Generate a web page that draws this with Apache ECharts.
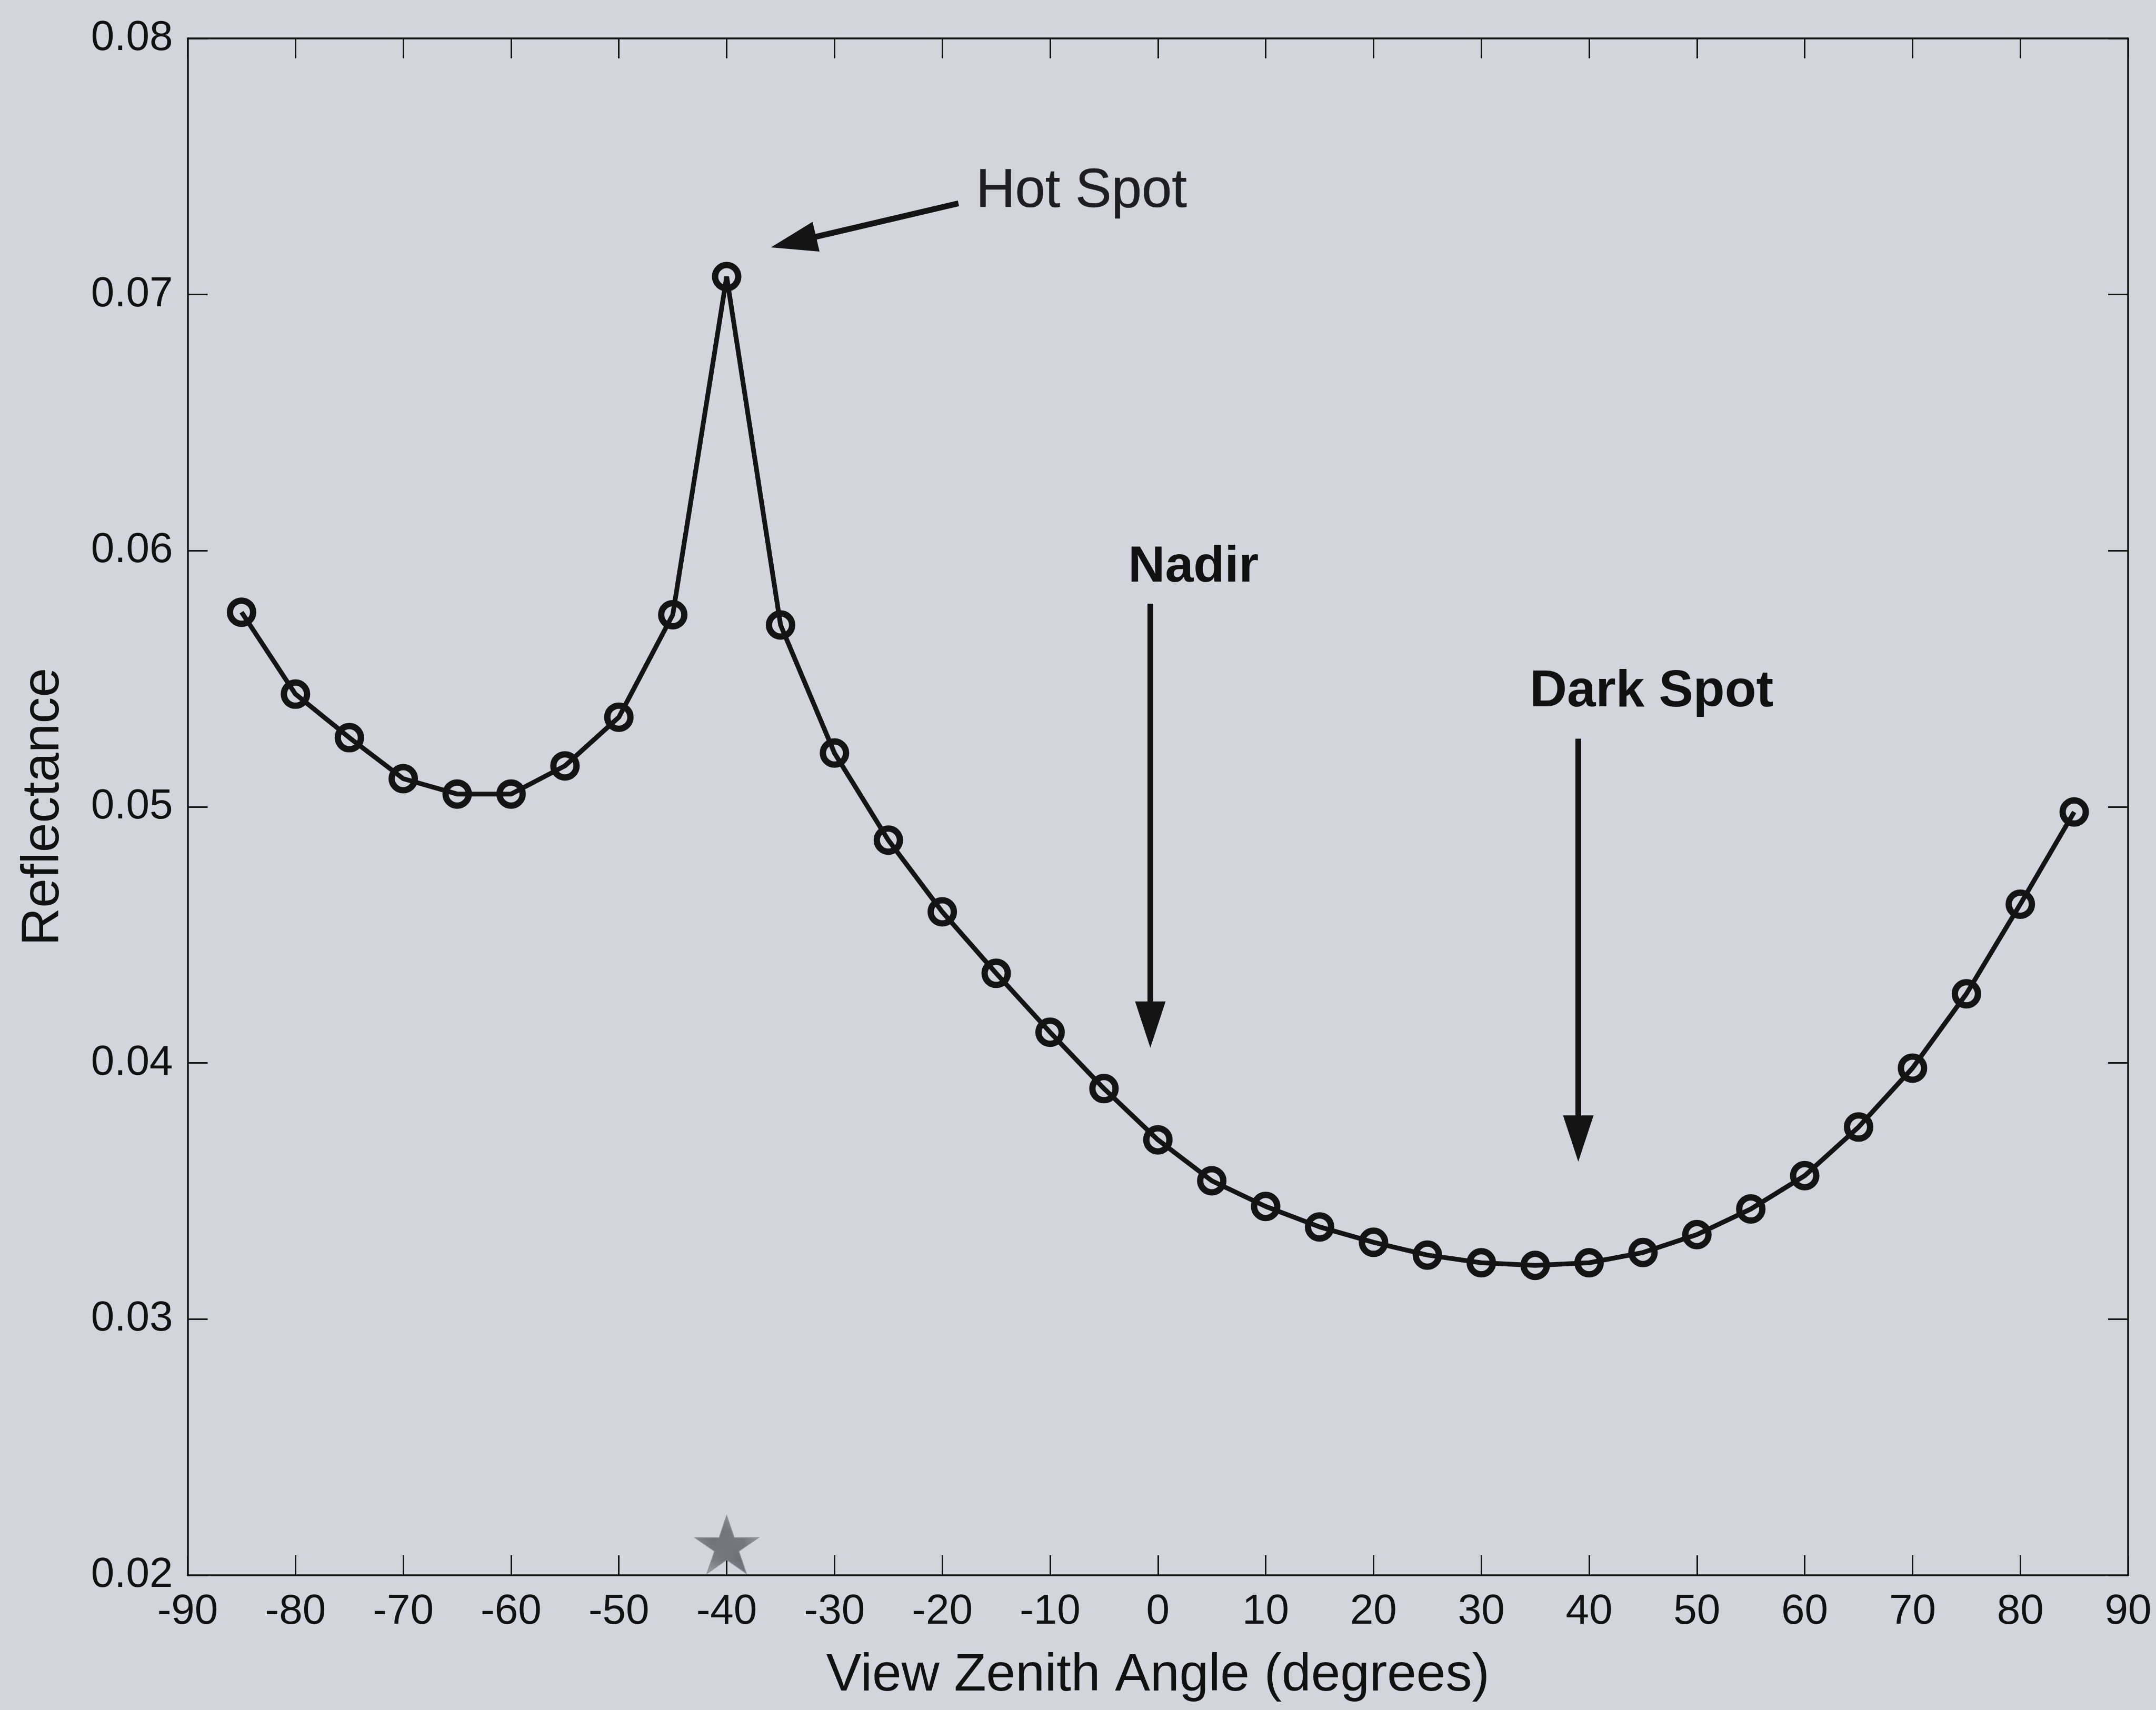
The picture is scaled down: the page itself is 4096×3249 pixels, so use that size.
<!DOCTYPE html>
<html>
<head>
<meta charset="utf-8">
<script src="https://cdn.jsdelivr.net/npm/echarts@6/dist/echarts.min.js"></script>
<style>
  html, body { margin: 0; padding: 0; background: #d3d4dc; }
  #chart { width: 4096px; height: 3249px; }
</style>
</head>
<body>
<div id="chart"></div>
<script>
// View zenith angles (degrees) and the modelled reflectance at each angle
const angles = [-85, -80, -75, -70, -65, -60, -55, -50, -45, -40, -35, -30, -25, -20, -15, -10, -5,
                0, 5, 10, 15, 20, 25, 30, 35, 40, 45, 50, 55, 60, 65, 70, 75, 80, 85];
const reflectance = [0.0576, 0.0544, 0.0527, 0.0511, 0.0505, 0.0505, 0.0516, 0.0535, 0.0575, 0.0707,
                     0.0571, 0.0521, 0.0487, 0.0459, 0.0435, 0.0412, 0.0390,
                     0.0370, 0.0354, 0.0344, 0.0336, 0.0330, 0.0325, 0.0322, 0.0321, 0.0322,
                     0.0326, 0.0333, 0.0343, 0.0356, 0.0375, 0.0398, 0.0427, 0.0462, 0.0498];

// Sun position marker (solar zenith angle)
const sunPosition = [-40, 0.0212];

// Annotation texts and the arrows that point to features of the curve
// (arrow end = centre of the arrow head)
const noteNames = ['Hot Spot', 'Nadir', 'Dark Spot'];
const notePositions = [[-16.9, 0.0740], [3.3, 0.05935], [45.8, 0.05448]];
const arrowFrom = [[-18.5, 0.07356], [-0.7, 0.05793], [39, 0.05266]];
const arrowTo = [[-33.8, 0.07205], [-0.7, 0.04150], [39, 0.03705]];

// Axis settings
const xRange = [-90, 90], xStep = 10;
const yRange = [0.02, 0.08], yStep = 0.01;

const FONT = '"Liberation Sans", Arial, Helvetica, sans-serif';
const INK = '#141414';

// diagonal hatch fill for the sun star
function hatchPattern() {
  const c = document.createElement('canvas');
  c.width = 9; c.height = 9;
  const g = c.getContext('2d');
  g.fillStyle = '#d4d5dc';
  g.fillRect(0, 0, 9, 9);
  g.strokeStyle = '#6e6e76';
  g.lineWidth = 2;
  g.beginPath();
  g.moveTo(-2, -2); g.lineTo(11, 11);
  g.moveTo(-2, 7); g.lineTo(2, 11);
  g.moveTo(7, -2); g.lineTo(11, 2);
  g.stroke();
  return { image: c, repeat: 'repeat' };
}

const starPath = 'path://M50,0 L61.2,34.5 L97.6,34.5 L68.2,55.9 L79.4,90.5 L50,69.1 L20.6,90.5 L31.8,55.9 L2.4,34.5 L38.8,34.5 Z';
const arrowHead = 'path://M5,0 L10,10 L0,10 Z';

const frameLine = { onZero: false, lineStyle: { color: INK, width: 3.5 } };
const innerTick = { inside: true, length: 38, lineStyle: { color: INK, width: 3 } };

const chart = echarts.init(document.getElementById('chart'), null, { renderer: 'canvas' });

chart.setOption({
  backgroundColor: '#d3d4dc',
  animation: false,
  textStyle: { fontFamily: FONT },
  grid: { left: 356.5, right: 53, top: 73, bottom: 256, containLabel: false },
  xAxis: [
    {
      type: 'value', position: 'bottom', min: xRange[0], max: xRange[1], interval: xStep,
      axisLine: frameLine, axisTick: innerTick, splitLine: { show: false },
      axisLabel: { margin: 30, fontSize: 80, color: '#111', fontFamily: FONT },
      name: 'View Zenith Angle (degrees)', nameLocation: 'middle', nameGap: 141,
      nameTextStyle: { fontSize: 100, color: '#111', fontFamily: FONT }
    },
    {
      type: 'value', position: 'top', min: xRange[0], max: xRange[1], interval: xStep,
      axisLine: frameLine, axisTick: innerTick, splitLine: { show: false },
      axisLabel: { show: false }
    }
  ],
  yAxis: [
    {
      type: 'value', position: 'left', min: yRange[0], max: yRange[1], interval: yStep,
      axisLine: frameLine, axisTick: innerTick, splitLine: { show: false },
      axisLabel: { margin: 28, fontSize: 80, color: '#111', fontFamily: FONT,
                   formatter: v => v.toFixed(2) },
      name: 'Reflectance', nameLocation: 'middle', nameGap: 223,
      nameTextStyle: { fontSize: 100, color: '#111', fontFamily: FONT }
    },
    {
      type: 'value', position: 'right', min: yRange[0], max: yRange[1], interval: yStep,
      axisLine: frameLine, axisTick: innerTick, splitLine: { show: false },
      axisLabel: { show: false }
    }
  ],
  series: [
    {
      name: 'Reflectance',
      type: 'line',
      data: angles.map((a, i) => [a, reflectance[i]]),
      symbol: 'circle',
      symbolSize: 44,
      itemStyle: { color: 'rgba(0,0,0,0)', borderColor: INK, borderWidth: 12, opacity: 1 },
      lineStyle: { color: INK, width: 9 },
      z: 5
    },
    {
      name: 'Sun',
      type: 'scatter',
      data: [sunPosition],
      symbol: starPath,
      symbolSize: [121, 110],
      itemStyle: { color: hatchPattern(), borderColor: '#8c8c94', borderWidth: 1.5, opacity: 1 },
      z: 3
    },
    {
      name: 'Arrows',
      type: 'line',
      data: [],
      markLine: {
        silent: true,
        animation: false,
        symbol: ['none', arrowHead],
        symbolSize: [58, 88],
        label: { show: false },
        lineStyle: { color: INK, width: 11, type: 'solid', opacity: 1 },
        emphasis: { disabled: true },
        data: arrowFrom.map((p, i) => [{ coord: p }, { coord: arrowTo[i] }])
      }
    },
    {
      name: 'Notes',
      type: 'scatter',
      symbolSize: 1,
      itemStyle: { color: 'rgba(0,0,0,0)', opacity: 1 },
      silent: true,
      data: noteNames.map((n, i) => ({
        name: n,
        value: notePositions[i],
        label: i === 0
          ? { show: true, position: 'right', distance: 0, formatter: '{b}',
              fontSize: 103, fontWeight: 'normal', color: '#1e1e22', fontFamily: FONT,
              textBorderWidth: 0.6, textBorderColor: '#1e1e22' }
          : { show: true, position: 'inside', formatter: '{b}',
              fontSize: i === 1 ? 97 : 98, fontWeight: 'bold', color: '#111', fontFamily: FONT }
      }))
    }
  ]
});
</script>
</body>
</html>
